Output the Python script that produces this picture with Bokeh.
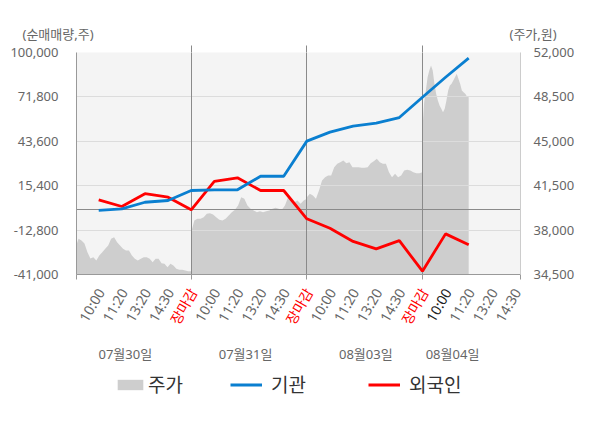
import numpy as np
from bokeh.plotting import figure
from bokeh.models import (Range1d, LinearAxis, FixedTicker, NumeralTickFormatter,
                          Legend, LegendItem)
from bokeh.embed import file_html
from bokeh.resources import INLINE
from bokeh.core.properties import value

FONT = "Noto Sans, Noto Sans CJK KR"

# ---------------- data ----------------
days = ["07월30일", "07월31일", "08월03일", "08월04일"]
slot_labels = ["10:00", "11:20", "13:20", "14:30", "장마감"]
tick_labels = slot_labels * 3 + slot_labels[:4]

# 순매매량 (주) at each slot
inst = [-300, 700, 4900, 6000, 12350, 12800, 12800, 21400, 21400,
        43700, 49400, 53200, 55100, 58700, 71600, 84300, 96400]          # 기관
foreign = [6450, 2200, 10300, 8100, 100, 18100, 20400, 12350, 12350,
           -5600, -11600, -20000, -24700, -19500, -38900, -15200, -22100]  # 외국인

# 주가 (원), intraday
price_d1 = [36650, 37310, 37180, 36940, 36260, 35760, 35860, 35600, 36000, 36260,
            36530, 36790, 37310, 37440, 37050, 36790, 36530, 36390, 36390, 36000,
            35740, 35600, 35740, 35860, 35860, 35740, 35470, 35740, 35740, 35390,
            35340, 35080, 35340, 35210, 34950, 34870, 34870, 34820, 34760, 34760]
price_d2 = [37830, 38760, 38890, 38890, 39020, 39290, 39330, 39230, 39020, 38810,
            38760, 38890, 39150, 39410, 39600, 39940, 40590, 40470, 39940, 39680,
            39550, 39410, 39490, 39410, 39490, 39550, 39680, 39760, 39680, 39600,
            39940, 40590, 40330, 40200, 40330, 40070, 40330, 40470]
price_d3 = [40590, 40860, 40730, 40470, 41120, 41910, 42170, 42300, 42300, 42960,
            43230, 43350, 43490, 43270, 43350, 42960, 42960, 42960, 42910, 42910,
            42960, 43270, 43430, 43620, 43350, 43230, 43230, 42560, 42170, 42440,
            42170, 42300, 42700, 42750, 42700, 42560, 42490, 42490, 42560]
price_d4 = [45990, 48080, 49000, 50050, 50580, 50980, 50580, 49530, 48740, 48220,
            47820, 47560, 47290, 47560, 48220, 49000, 49400, 49530, 49790, 50050,
            50320, 49930, 49530, 49000, 48870, 48740, 48530, 48480]

left_ticks = [-41000, -12800, 15400, 43600, 71800, 100000]
right_ticks = [34500, 38000, 41500, 45000, 48500, 52000]
day_label_pos = [1.15, 6.35, 11.55, 15.3]

# ---------------- layout constants (pixels) ----------------
W = 600
TOP_H = 44            # unit-label strip
B_LEFT, B_RIGHT, B_TOP, B_BOTTOM = 76, 80, 8, 8
FRAME_W, FRAME_H = 444, 222
MAIN_H = B_TOP + FRAME_H + B_BOTTOM
BOT_TOP = TOP_H + MAIN_H
BOT_H = 428 - BOT_TOP
X0, X1 = -0.96, 18.24
ppu = FRAME_W / (X1 - X0)

GRAY_TXT = "#666666"
AREA_C, BLUE_C, RED_C = "#cecece", "#0a7fd0", "#ff0000"
n = len(tick_labels)
close_idx = [i for i, t in enumerate(tick_labels) if t == "장마감"]

# ---------------- top strip: unit labels ----------------
top = figure(width=W, height=TOP_H, output_backend="svg", toolbar_location=None,
             x_range=Range1d(0, W), y_range=Range1d(0, TOP_H),
             x_axis_type=None, y_axis_type=None, min_border=0)
top.outline_line_color = None
top.grid.visible = False
top.text(x=[22, 509], y=[11, 11], text=["(순매매량,주)", "(주가,원)"],
         text_align="left", text_baseline="middle", text_color=GRAY_TXT,
         text_font=value(FONT), text_font_size="13px")

# ---------------- main chart ----------------
p = figure(width=W, height=MAIN_H, output_backend="svg",
           toolbar_location=None,
           x_range=Range1d(X0, X1),
           y_range=Range1d(left_ticks[0], left_ticks[-1]),
           min_border_left=B_LEFT, min_border_right=B_RIGHT, min_border_top=B_TOP,
           min_border_bottom=B_BOTTOM)
p.extra_y_ranges = {"price": Range1d(right_ticks[0], right_ticks[-1])}
p.background_fill_color = "#f4f4f4"
p.border_fill_color = "white"
p.outline_line_color = None
p.xgrid.visible = False
p.ygrid.visible = False

price_days = [price_d1, price_d2, price_d3, price_d4]
for d, arr in enumerate(price_days):
    start = d * 5 - 1
    end = d * 5 + 4 if d < 3 else len(inst) - 1
    xs = np.linspace(start, end, len(arr))
    p.varea(x=xs, y1=right_ticks[0], y2=arr, y_range_name="price",
            fill_color=AREA_C, fill_alpha=1.0)

p.hspan(y=left_ticks[1:-1], line_color="#dcdcdc", line_width=1)
p.hspan(y=[0], line_color="#8a8a8a", line_width=1)
p.vspan(x=close_idx, line_color="#8a8a8a", line_width=1)

xi = list(range(len(inst)))
p.line(xi, foreign, line_color=RED_C, line_width=2.8)
p.line(xi, inst, line_color=BLUE_C, line_width=2.8)

p.yaxis.ticker = FixedTicker(ticks=left_ticks)
p.yaxis.formatter = NumeralTickFormatter(format="0,0")
p.yaxis.major_tick_line_color = None
p.yaxis.minor_tick_line_color = None
p.yaxis.axis_line_color = "#999999"
p.yaxis.major_label_text_font = FONT
p.yaxis.major_label_text_font_size = "13px"
p.yaxis.major_label_text_color = GRAY_TXT
p.yaxis.major_label_standoff = 12

ra = LinearAxis(y_range_name="price", ticker=FixedTicker(ticks=right_ticks),
                formatter=NumeralTickFormatter(format="0,0"))
ra.major_tick_line_color = None
ra.minor_tick_line_color = None
ra.axis_line_color = "#cccccc"
ra.major_label_text_font = FONT
ra.major_label_text_font_size = "13px"
ra.major_label_text_color = GRAY_TXT
ra.major_label_standoff = 7
p.add_layout(ra, "right")

edge_ticks = [X0 + 0.005] + close_idx + [X1 - 0.005]
p.xaxis.ticker = FixedTicker(ticks=edge_ticks)
p.xaxis.major_label_overrides = {t: "" for t in edge_ticks}
p.xaxis.major_label_standoff = 0
p.xaxis.major_tick_in = 0
p.xaxis.major_tick_out = 5
p.xaxis.major_tick_line_color = "#999999"
p.xaxis.minor_tick_line_color = None
p.xaxis.axis_line_color = "#999999"

ta = LinearAxis(ticker=FixedTicker(ticks=close_idx))
ta.major_label_overrides = {t: "" for t in close_idx}
ta.major_label_standoff = 0
ta.major_tick_in = 0
ta.major_tick_out = 7
ta.major_tick_line_color = "#8a8a8a"
ta.minor_tick_line_color = None
ta.axis_line_color = None
p.add_layout(ta, "above")

# ---------------- bottom strip: slot labels, day labels, legend ----------------
bx0 = X0 - B_LEFT / ppu
bx1 = X1 + B_RIGHT / ppu
bot = figure(width=W, height=BOT_H, output_backend="svg", toolbar_location=None,
             x_range=Range1d(bx0, bx1), y_range=Range1d(0, BOT_H),
             x_axis_type=None, y_axis_type=None, min_border=0)
bot.outline_line_color = None
bot.grid.visible = False

def ypix(page_y):
    # convert a page y (from top) into the bottom strip's data y
    return 428 - page_y

colors = []
for i, t in enumerate(tick_labels):
    if t == "장마감":
        colors.append(RED_C)
    elif i == close_idx[-1] + 1:
        colors.append("#222222")
    else:
        colors.append(GRAY_TXT)
bot.text(x=[i + 2 / ppu for i in range(n)], y=[ypix(289)] * n, text=tick_labels,
         angle=np.pi / 3, text_align="right", text_baseline="middle",
         text_color=colors, text_font=value(FONT), text_font_size="14px")

bot.text(x=day_label_pos, y=[ypix(353)] * len(days), text=days,
         text_align="center", text_baseline="middle", text_color=GRAY_TXT,
         text_font=value(FONT), text_font_size="13px")

# legend swatches: renderers styled like the series, placed outside the view
off_x = [bx0 - 2, bx0 - 1]
lg_area = bot.varea(x=off_x, y1=[0, 0], y2=[1, 1], fill_color=AREA_C)
lg_blue = bot.line(x=off_x, y=[0, 0], line_color=BLUE_C, line_width=3)
lg_red = bot.line(x=off_x, y=[0, 0], line_color=RED_C, line_width=3)

def add_leg(r, label, x, standoff):
    leg = Legend(items=[LegendItem(label=label, renderers=[r])],
                 location=(x, ypix(398)),
                 orientation="horizontal", padding=0, margin=0, border_line_color=None,
                 background_fill_alpha=0, glyph_width=32, glyph_height=13,
                 label_text_font=FONT, label_text_font_size="19px",
                 label_text_color="#333333", label_standoff=standoff, spacing=0)
    bot.add_layout(leg, "center")

add_leg(lg_area, "주가", 114, 2)
add_leg(lg_blue, "기관", 230, 9)
add_leg(lg_red, "외국인", 368, 9)

open("out.html", "w").write(file_html([top, p, bot], INLINE))
